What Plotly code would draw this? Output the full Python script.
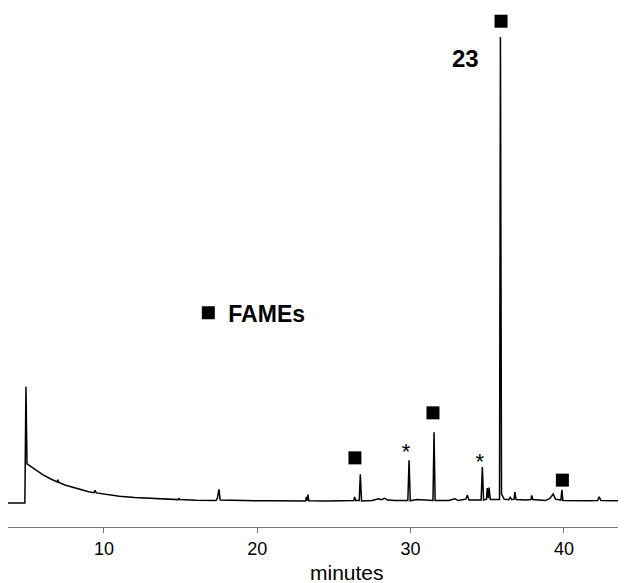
import plotly.graph_objects as go

# Chromatogram trace (retention time in minutes, relative signal, % of tallest peak)
time_min = [3.74, 4.84, 4.91, 4.98, 5.2, 5.6, 6.0, 6.5, 6.95, 7.0, 7.05, 7.5, 8.0, 8.5, 9.0,
            9.35, 9.42, 9.5, 10.0, 10.5, 11.0, 12.0, 13.0, 14.0, 14.85, 14.9, 14.95, 16.0,
            17.3, 17.4, 17.5, 17.58, 18.5, 20.0, 21.0, 22.0, 23.15, 23.2, 23.25, 23.3, 23.36,
            24.5, 25.5, 26.3, 26.35, 26.42, 26.65, 26.72, 26.8, 27.5, 27.9, 28.1, 28.3, 28.5,
            29.0, 29.82, 29.9, 29.98, 30.4, 31.0, 31.46, 31.53, 31.6, 32.5, 32.9, 33.1, 33.6,
            33.7, 33.8, 34.6, 34.68, 34.76, 34.95, 35.0, 35.07, 35.12, 35.2, 35.8, 35.86,
            35.93, 36.1, 36.4, 36.5, 36.6, 36.75, 36.8, 36.88, 37.5, 37.85, 37.9, 37.97, 38.8,
            39.1, 39.3, 39.45, 39.8, 39.87, 39.93, 40.5, 41.5, 42.2, 42.3, 42.42, 43.0, 44.05]
signal = [-0.43, -0.43, 24.6, 8.0, 7.5, 6.6, 5.7, 4.8, 4.1, 4.6, 4.0, 3.4, 2.9, 2.4, 2.0,
          1.8, 2.3, 1.75, 1.5, 1.25, 1.05, 0.75, 0.55, 0.4, 0.3, 0.6, 0.3, 0.15,
          0.1, 0.6, 2.5, 0.2, 0.1, 0.05, 0.05, 0.0, 0.0, 0.9, 0.1, 1.4, 0.05,
          0.0, 0.1, 0.1, 0.9, 0.1, 0.1, 5.75, 0.0, 0.1, 0.5, 0.3, 0.6, 0.2,
          0.1, 0.1, 8.8, 0.05, 0.3, 0.1, 0.1, 14.8, 0.1, 0.1, 0.5, 0.1, 0.4,
          1.3, 0.2, 0.2, 7.3, 0.2, 0.4, 2.8, 0.6, 2.9, 0.3, 0.3, 100.0,
          1.5, 0.4, 0.3, 0.8, 0.3, 0.4, 1.9, 0.3, 0.2, 0.3, 1.2, 0.3, 0.1,
          0.6, 1.5, 0.4, 0.2, 2.4, 0.1, 0.05, 0.05, 0.1, 0.9, 0.1, 0.05, 0.0]

# FAME peak markers
fame_time = [26.37, 31.46, 35.9, 39.9]
fame_mark_y = [9.3, 19.0, 103.4, 4.5]

# Asterisk-labelled peaks
star_time = [29.7, 34.52]
star_y = [10.3, 8.0]

# Peak label
label_text = "23"
label_time = 33.61
label_y = 95.4

x_ticks = [10, 20, 30, 40]

FONT = "Liberation Sans, Arial, sans-serif"

fig = go.Figure()
fig.add_trace(go.Scatter(x=time_min, y=signal, mode="lines",
                         line=dict(color="black", width=1.5), showlegend=False,
                         hoverinfo="skip"))
fig.add_trace(go.Scatter(x=fame_time, y=fame_mark_y, mode="markers", name="<b>FAMEs</b>",
                         marker=dict(symbol="square", size=13, color="black"),
                         showlegend=True))
fig.add_trace(go.Scatter(x=star_time, y=star_y, mode="text", text=["*"] * len(star_time),
                         textfont=dict(family=FONT, size=22, color="black"),
                         textposition="middle center", showlegend=False))

fig.add_annotation(x=label_time, y=label_y, text="<b>%s</b>" % label_text, showarrow=False,
                   font=dict(family=FONT, size=24, color="black"), xanchor="center",
                   yanchor="middle")
fig.add_annotation(x=0.548, y=-0.088, xref="paper", yref="paper", text="minutes",
                   showarrow=False, font=dict(family=FONT, size=21, color="black"),
                   xanchor="center", yanchor="middle")

# page body has an 8px margin: figure is sized to fill the rest of the window
fig.update_layout(
    width=618, height=575,
    margin=dict(l=0, r=0, t=0, b=56),
    paper_bgcolor="white", plot_bgcolor="white",
    font=dict(family=FONT, color="black"),
    legend=dict(x=0.2918, y=0.4127, xanchor="left", yanchor="middle",
                font=dict(family=FONT, size=23, color="black"),
                bgcolor="rgba(0,0,0,0)"),
)
fig.update_xaxes(range=[3.74, 44.05], tickvals=x_ticks, ticks="outside", ticklen=5,
                 tickcolor="#777", showline=True, linecolor="#777", linewidth=1,
                 showgrid=False, zeroline=False, tickfont=dict(family=FONT, size=18, color="black"))
fig.update_yaxes(range=[-5.6, 106.25], visible=False, showgrid=False, zeroline=False)

fig.write_html("out.html")
